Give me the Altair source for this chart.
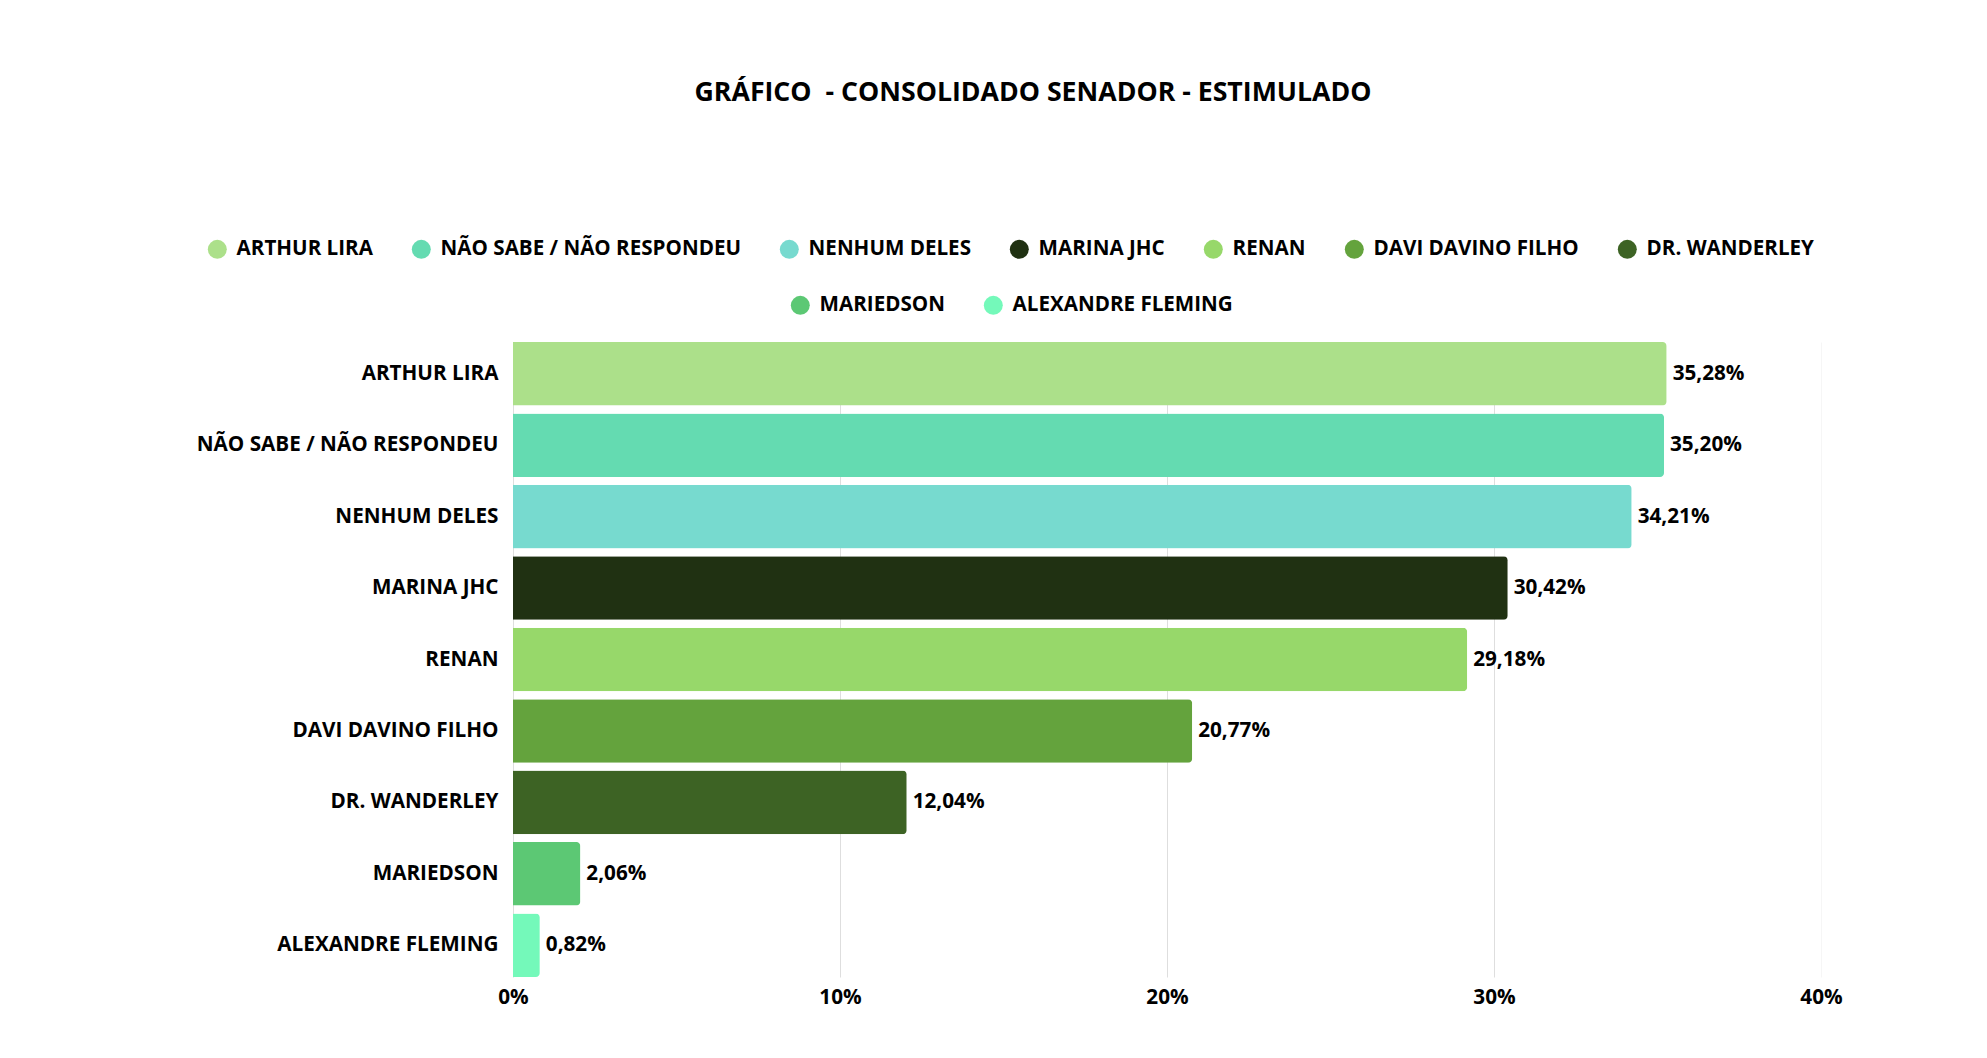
import altair as alt
import pandas as pd

candidates = [
    "ARTHUR LIRA",
    "NÃO SABE / NÃO RESPONDEU",
    "NENHUM DELES",
    "MARINA JHC",
    "RENAN",
    "DAVI DAVINO FILHO",
    "DR. WANDERLEY",
    "MARIEDSON",
    "ALEXANDRE FLEMING",
]
values = [35.28, 35.20, 34.21, 30.42, 29.18, 20.77, 12.04, 2.06, 0.82]
colors = [
    "#ACE08A",
    "#64DBB1",
    "#77DACF",
    "#203112",
    "#97D86A",
    "#64A33D",
    "#3D6324",
    "#5CC874",
    "#74F9BA",
]
x_ticks = [0, 10, 20, 30, 40]
title_text = "GRÁFICO\u00a0 - CONSOLIDADO SENADOR - ESTIMULADO"

legend_row1 = candidates[:7]
legend_row2 = candidates[7:]

df = pd.DataFrame({"cand": candidates, "pct": values})

FONT = "Open Sans"
FS = 20.7
FS_LEG = 20.6

y_enc = alt.Y(
    "cand:N",
    sort=candidates,
    scale=alt.Scale(domain=candidates, paddingInner=0.11, paddingOuter=0.0),
    axis=alt.Axis(
        title=None,
        labelFont=FONT,
        labelFontWeight="bold",
        labelFontSize=FS,
        labelColor="#000000",
        labelPadding=15,
        ticks=False,
        domain=False,
        grid=False,
        labelLimit=600,
    ),
)
x_enc = alt.X(
    "pct:Q",
    scale=alt.Scale(domain=[0, 40], nice=False),
    axis=alt.Axis(
        title=None,
        values=x_ticks,
        labelExpr="datum.value + '%'",
        labelFont=FONT,
        labelFontWeight="bold",
        labelFontSize=FS,
        labelColor="#000000",
        labelPadding=10,
        labelFlush=False,
        grid=True,
        gridColor={
            "condition": {"test": "datum.value >= 40", "value": "#f6f6f6"},
            "value": "#dedede",
        },
        gridWidth=1,
        ticks=False,
        domain=False,
    ),
)


def make_legend(x, y):
    return alt.Legend(
        orient="none",
        legendX=x,
        legendY=y,
        direction="horizontal",
        title=None,
        symbolType="circle",
        symbolSize=360,
        symbolStrokeWidth=0,
        symbolOpacity=1,
        labelFont=FONT,
        labelFontWeight="bold",
        labelFontSize=FS_LEG,
        labelColor="#000000",
        labelOffset=9,
        labelLimit=600,
        columnPadding=38,
    )


bars1 = (
    alt.Chart(df)
    .transform_filter(alt.FieldOneOfPredicate(field="cand", oneOf=legend_row1))
    .mark_bar(cornerRadiusEnd=4)
    .encode(
        x=x_enc,
        y=y_enc,
        color=alt.Color(
            "cand:N",
            sort=legend_row1,
            scale=alt.Scale(domain=legend_row1, range=colors[:7]),
            legend=make_legend(-306, -103),
        ),
    )
)
bars2 = (
    alt.Chart(df)
    .transform_filter(alt.FieldOneOfPredicate(field="cand", oneOf=legend_row2))
    .mark_bar(cornerRadiusEnd=4)
    .encode(
        x=x_enc,
        y=y_enc,
        color=alt.Color(
            "cand:N",
            sort=legend_row2,
            scale=alt.Scale(domain=legend_row2, range=colors[7:]),
            legend=make_legend(277, -47),
        ),
    )
)
labels = (
    alt.Chart(df)
    .mark_text(
        align="left",
        baseline="middle",
        dx=6,
        font=FONT,
        fontWeight="bold",
        fontSize=FS,
        color="#000000",
    )
    .encode(
        x=x_enc,
        y=y_enc,
        text=alt.Text("label:N"),
    )
    .transform_calculate(
        label="replace(format(datum.pct, '.2f'), '.', ',') + '%'"
    )
)

chart = (
    alt.layer(bars1, bars2, labels)
    .resolve_scale(color="independent")
    .properties(
        width=1308,
        height=635,
        autosize=alt.AutoSizeParams(type="none"),
        padding={"left": 505, "top": 334, "right": 140, "bottom": 70},
        view=alt.ViewBackground(stroke="transparent", strokeWidth=0),
        title=alt.TitleParams(
            title_text,
            font=FONT,
            fontSize=26.7,
            fontWeight="bold",
            color="#000000",
            anchor="middle",
            dx=-134,
            offset=132,
        ),
    )
    .configure_view(strokeWidth=0, stroke="transparent")
    .configure_axisX(domain=False)
    .configure_axisY(domain=False, grid=False)
    .configure(background="#ffffff")
)

chart.save("out.html", embed_options={"renderer": "svg", "actions": False})
